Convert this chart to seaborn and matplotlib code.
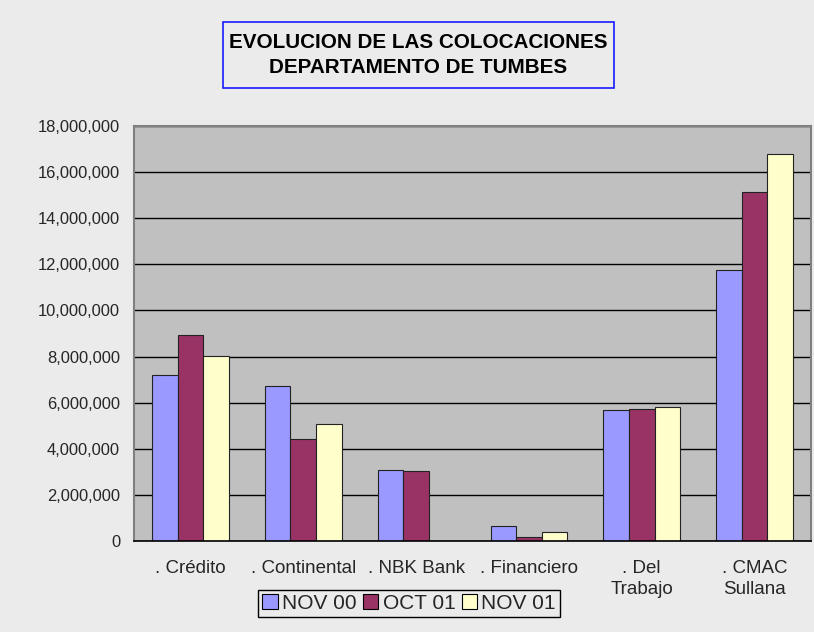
import numpy as np
import pandas as pd
import matplotlib.pyplot as plt
import seaborn as sns
from matplotlib.patches import Rectangle

# data
categories = [". Crédito", ". Continental", ". NBK Bank", ". Financiero", ". Del\nTrabajo", ". CMAC\nSullana"]
periods = ["NOV 00", "OCT 01", "NOV 01"]
nov00 = [7200000, 6720000, 3080000, 630000, 5690000, 11750000]
oct01 = [8930000, 4420000, 3040000, 160000, 5710000, 15130000]
nov01 = [8020000, 5070000, np.nan, 390000, 5800000, 16780000]
colors = ["#9999ff", "#993366", "#ffffcc"]

df = pd.DataFrame({
    "banco": categories * 3,
    "periodo": [p for p in periods for _ in categories],
    "monto": nov00 + oct01 + nov01,
})

sns.set_style("white")
plt.rcParams["font.family"] = ["Liberation Sans", "DejaVu Sans"]

fig = plt.figure(figsize=(8.14, 6.32), dpi=100)
fig.patch.set_facecolor("#ebebeb")
ax = fig.add_axes([0.1646, 0.144, 0.8317, 0.6566])
ax.set_facecolor("#c0c0c0")

sns.barplot(data=df, x="banco", y="monto", hue="periodo", palette=colors, saturation=1,
            width=0.68, edgecolor="#222222", linewidth=0.8, ax=ax, legend=True)

ax.set_ylim(0, 18000000)
ax.set_xlim(-0.5, 5.5)
ax.set_yticks(np.arange(0, 18000001, 2000000))
ax.yaxis.set_major_formatter(plt.FuncFormatter(lambda v, p: f"{int(v):,}"))
ax.yaxis.grid(True, color="black", linewidth=1.0)
ax.set_axisbelow(True)
ax.tick_params(axis="y", which="major", direction="out", length=6, width=1,
               color="#444444", labelsize=11.9, pad=4)
ax.tick_params(axis="x", which="major", length=0, labelsize=13.5, pad=14)
ax.set_xticks(np.arange(-0.5, 6.0, 1.0), minor=True)
ax.tick_params(axis="x", which="minor", direction="out", length=6, width=1, color="#444444")
ax.set_xlabel("")
ax.set_ylabel("")
for lbl in ax.get_xticklabels():
    lbl.set_verticalalignment("top")
    lbl.set_multialignment("center")
    lbl.set_linespacing(1.25)

for side in ["top", "right", "left"]:
    ax.spines[side].set_visible(True)
    ax.spines[side].set_color("#808080")
    ax.spines[side].set_linewidth(1.5)
ax.spines["bottom"].set_color("black")
ax.spines["bottom"].set_linewidth(1.2)

# legend at the bottom
ax.get_legend().remove()
handles = [Rectangle((0, 0), 1, 1, facecolor=c, edgecolor="black", linewidth=0.8) for c in colors]
fig.legend(handles, periods, loc="center", bbox_to_anchor=(0.5025, 0.045), ncol=3,
           frameon=True, fancybox=False, edgecolor="black", facecolor="#ebebeb",
           fontsize=15, handlelength=0.75, handleheight=0.75, handletextpad=0.2,
           columnspacing=0.3, borderpad=0.2, framealpha=1)

# boxed title
fig.patches.append(Rectangle((223 / 814, 1 - 88 / 632), 391 / 814, 66 / 632,
                             transform=fig.transFigure, facecolor="none",
                             edgecolor="#1a1aff", linewidth=1.2))
fig.text(0.514, 0.913, "EVOLUCION DE LAS COLOCACIONES\nDEPARTAMENTO DE TUMBES",
         ha="center", va="center", fontsize=14.9, fontweight="bold", linespacing=1.4,
         color="black")

fig.savefig("out.png", dpi=100, facecolor=fig.get_facecolor())
